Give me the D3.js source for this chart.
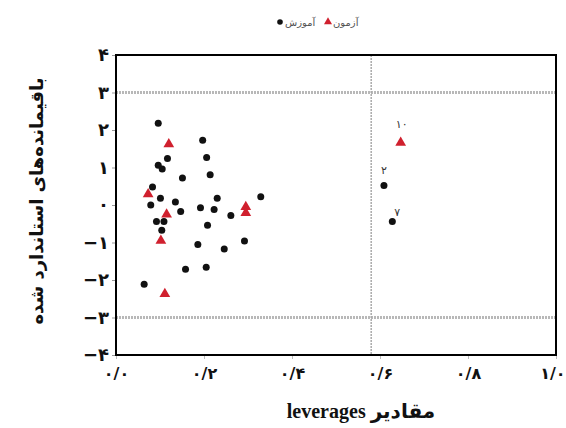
<!DOCTYPE html>
<html lang="fa">
<head>
<meta charset="utf-8" />
<title>leverages plot</title>
<script src="https://cdn.jsdelivr.net/npm/d3@7/dist/d3.min.js"></script>
<style>
  body { margin: 0; background: #fff; }
  svg { display: block; }
</style>
</head>
<body>
<svg width="566" height="428"></svg>
<script>
// training set (black dots)
var trainX = [0.096, 0.197, 0.206, 0.117, 0.096, 0.105, 0.151, 0.214, 0.083, 0.101,
              0.079, 0.135, 0.147, 0.192, 0.223, 0.230, 0.329, 0.261, 0.092, 0.109,
              0.104, 0.208, 0.186, 0.246, 0.292, 0.158, 0.205, 0.064, 0.609, 0.628];
var trainY = [2.18, 1.73, 1.27, 1.24, 1.06, 0.96, 0.72, 0.81, 0.48, 0.18,
              0.00, 0.08, -0.17, -0.07, -0.12, 0.18, 0.22, -0.28, -0.44, -0.44,
              -0.67, -0.54, -1.05, -1.17, -0.96, -1.71, -1.66, -2.11, 0.52, -0.44];
var trainLabel = ['', '', '', '', '', '', '', '', '', '', '', '', '', '', '', '', '', '', '', '',
                  '', '', '', '', '', '', '', '', '۲', '۷'];

// test set (red triangles)
var testX = [0.120, 0.073, 0.115, 0.102, 0.111, 0.295, 0.295, 0.647];
var testY = [1.62, 0.29, -0.25, -0.95, -2.37, -0.05, -0.21, 1.66];
var testLabel = ['', '', '', '', '', '', '', '۱۰'];

var xTicks = [0, 0.2, 0.4, 0.6, 0.8, 1.0];
var yTicks = [-4, -3, -2, -1, 0, 1, 2, 3, 4];
var limitY = [3, -3];
var limitX = [0.58];

var legendNames = ['آموزش', 'آزمون'];
var xTitle = 'مقادیر leverages';
var yTitle = 'باقیمانده‌های استاندارد شده';

var svg = d3.select('svg'),
    margin = {top: 55, right: 10, bottom: 73, left: 116},
    width = +svg.attr('width') - margin.left - margin.right,
    height = +svg.attr('height') - margin.top - margin.bottom,
    g = svg.append('g').attr('transform', 'translate(' + margin.left + ',' + margin.top + ')');

var x = d3.scaleLinear().domain([0, 1]).range([0, width]);
var y = d3.scaleLinear().domain([-4, 4]).range([height, 0]);

var fa = function(s) {
    return String(s).replace(/[0-9]/g, function(c) { return '۰۱۲۳۴۵۶۷۸۹'[+c]; });
};

// axes
var yAxis = g.append('g')
    .call(d3.axisLeft(y).tickValues(yTicks).tickSize(4).tickPadding(3)
        .tickFormat(function(d) { return d < 0 ? '−' + fa(-d) : fa(d); }));
yAxis.select('.domain').remove();
yAxis.selectAll('line').attr('stroke', '#999');
yAxis.selectAll('text')
    .attr('font-family', 'DejaVu Sans, sans-serif')
    .attr('font-weight', 'bold')
    .attr('font-size', 18)
    .attr('fill', '#111');

var xAxis = g.append('g')
    .attr('transform', 'translate(0,' + height + ')')
    .call(d3.axisBottom(x).tickValues(xTicks).tickSize(4).tickPadding(9)
        .tickFormat(function(d) { return fa(d3.format('.1f')(d)).replace('.', '/'); }));
xAxis.select('.domain').remove();
xAxis.selectAll('line').attr('stroke', '#bbb');
xAxis.selectAll('text')
    .attr('font-family', 'DejaVu Sans, sans-serif')
    .attr('font-weight', 'bold')
    .attr('font-size', 16)
    .attr('fill', '#111');
// keep the last label inside the picture
xAxis.selectAll('.tick').filter(function(d) { return d === 1; })
    .select('text').attr('text-anchor', 'end').attr('dx', 9);

// limit lines
g.selectAll('.hlimit')
    .data(limitY)
    .enter().append('line')
    .attr('class', 'hlimit')
    .attr('x1', 0).attr('x2', width)
    .attr('y1', function(d) { return y(d); })
    .attr('y2', function(d) { return y(d); })
    .attr('stroke', '#b8b8b8')
    .attr('stroke-width', 3)
    .attr('stroke-dasharray', '2,1');

g.selectAll('.vlimit')
    .data(limitX)
    .enter().append('line')
    .attr('class', 'vlimit')
    .attr('x1', function(d) { return x(d); })
    .attr('x2', function(d) { return x(d); })
    .attr('y1', 0).attr('y2', height)
    .attr('stroke', '#aaa')
    .attr('stroke-width', 1.5)
    .attr('stroke-dasharray', '2,1');

// frame
g.append('rect')
    .attr('width', width).attr('height', height)
    .attr('fill', 'none')
    .attr('stroke', '#000')
    .attr('stroke-width', 2);

// points
var train = trainX.map(function(d, i) { return {x: d, y: trainY[i], label: trainLabel[i]}; });
var test = testX.map(function(d, i) { return {x: d, y: testY[i], label: testLabel[i]}; });

var tri = d3.symbol().type(d3.symbolTriangle).size(50);

g.selectAll('.train')
    .data(train)
    .enter().append('circle')
    .attr('class', 'train')
    .attr('cx', function(d) { return x(d.x); })
    .attr('cy', function(d) { return y(d.y); })
    .attr('r', 3.5)
    .attr('fill', '#111');

g.selectAll('.test')
    .data(test)
    .enter().append('path')
    .attr('class', 'test')
    .attr('d', tri)
    .attr('transform', function(d) { return 'translate(' + x(d.x) + ',' + y(d.y) + ')'; })
    .attr('fill', '#d0202e');

// point labels
var labelled = train.filter(function(d) { return d.label; }).concat(test.filter(function(d) { return d.label; }));
var labelOffset = {'۲': [0, -12], '۷': [5, -6], '۱۰': [1, -15]};
g.selectAll('.plabel')
    .data(labelled)
    .enter().append('text')
    .attr('class', 'plabel')
    .attr('x', function(d) { return x(d.x) + labelOffset[d.label][0]; })
    .attr('y', function(d) { return y(d.y) + labelOffset[d.label][1]; })
    .attr('text-anchor', 'middle')
    .attr('font-family', 'DejaVu Sans, sans-serif')
    .attr('font-size', 11)
    .attr('fill', '#333')
    .text(function(d) { return d.label; });

// legend
var legend = svg.append('g').attr('transform', 'translate(280,22)');
legend.append('circle').attr('cx', 0).attr('cy', 0).attr('r', 2.8).attr('fill', '#111');
legend.append('text')
    .attr('x', 5).attr('y', 3.5)
    .attr('font-family', 'DejaVu Sans, sans-serif')
    .attr('font-size', 10)
    .attr('fill', '#555')
    .text(legendNames[0]);
legend.append('path')
    .attr('d', d3.symbol().type(d3.symbolTriangle).size(28))
    .attr('transform', 'translate(48,0)')
    .attr('fill', '#d0202e');
legend.append('text')
    .attr('x', 53).attr('y', 3.5)
    .attr('font-family', 'DejaVu Sans, sans-serif')
    .attr('font-size', 10)
    .attr('fill', '#555')
    .text(legendNames[1]);

// axis titles
svg.append('text')
    .attr('x', 361).attr('y', 418)
    .attr('text-anchor', 'middle')
    .attr('direction', 'rtl')
    .attr('font-family', 'Liberation Serif, DejaVu Sans, serif')
    .attr('font-weight', 'bold')
    .attr('font-size', 20)
    .attr('fill', '#111')
    .text(xTitle);

svg.append('text')
    .attr('transform', 'translate(43,201) rotate(-90)')
    .attr('text-anchor', 'middle')
    .attr('font-family', 'DejaVu Sans, sans-serif')
    .attr('font-weight', 'bold')
    .attr('font-size', 18)
    .attr('fill', '#111')
    .text(yTitle);
</script>
</body>
</html>
